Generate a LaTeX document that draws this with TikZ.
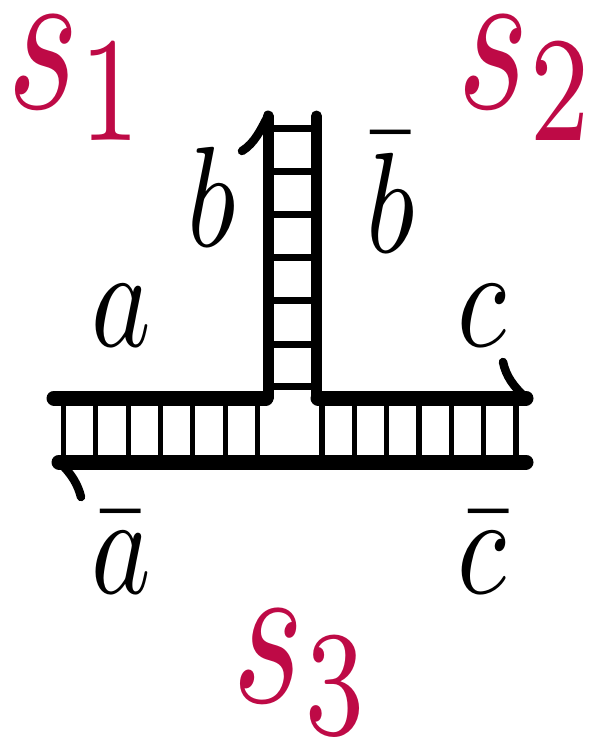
\documentclass[tikz,border=0pt]{standalone}
\usepackage{amsmath,amssymb}
\usepackage{xcolor}
\usepackage{tikz}
\usetikzlibrary{positioning}
\definecolor{strandname}{HTML}{BE0A46}
\begin{document}
\begin{tikzpicture}[x=1pt,y=-1pt,
  hstrand/.style={line width=15pt, line cap=round},
  vstrand/.style={line width=11pt, line cap=round},
  hook/.style={line width=8.5pt, line cap=round},
  hrung/.style={line width=7pt},
  vrung/.style={line width=5.3pt},
  domlabel/.style={inner sep=0pt, xscale=11.3, yscale=14.3},
  strandlabel/.style={inner sep=0pt, xscale=15.3, yscale=21.4, text=strandname},
]
  \useasboundingbox (0,0) rectangle (590,740);

  % strands
  \coordinate (top1) at (268,116);
  \coordinate (top2) at (316.5,116);
  \coordinate (left) at (54,398);
  \coordinate (right) at (526,398);
  \coordinate (innerl) at (266,398);
  \coordinate (innerr) at (318,398);
  \coordinate (botl) at (59,462);
  \coordinate (botr) at (526,462);
  \coordinate (hook1) at (242,151);
  \coordinate (hook2) at (503,362);
  \coordinate (hook3) at (81,497);

  % rungs
  \foreach \y in {128,171,214,257,300,344,386}
    \draw[hrung] (top1 |- 0,\y) -- (top2 |- 0,\y);
  \foreach \x in {63.5,95.5,128.5,160.5,192.5,225.5,257.5,322,354.5,386.5,419,451.5,483.5,516}
    \draw[vrung] (\x,398) -- (\x,462);

  \draw[hstrand] (left) -- (innerl);
  \draw[hstrand] (innerr) -- (right);
  \draw[hstrand] (botl) -- (botr);
  \draw[vstrand] (top1) -- (268,398);
  \draw[vstrand] (top2) -- (316.5,398);
  \draw[hook] (top1) .. controls (261,129) and (255,143) .. (hook1);
  \draw[hook] (right) .. controls (513,386) and (506,376) .. (hook2);
  \draw[hook] (botl) .. controls (72,474) and (78,485) .. (hook3);

  % labels
  \node[domlabel] (a) at (121,316) {$a$};
  \node[domlabel] (abar) at (121,553) {$\bar{a}$};
  \node[domlabel] (b) at (212,197) {$b$};
  \node[domlabel] (bbar) at (391,193) {$\bar{b}$};
  \node[domlabel] (c) at (482,316) {$c$};
  \node[domlabel] (cbar) at (482,553) {$\bar{c}$};
  \node[strandlabel] (s1) at (78,78) {$s_1$};
  \node[strandlabel] (s2) at (528,78) {$s_2$};
  \node[strandlabel] (s3) at (303,672) {$s_3$};
\end{tikzpicture}
\end{document}
